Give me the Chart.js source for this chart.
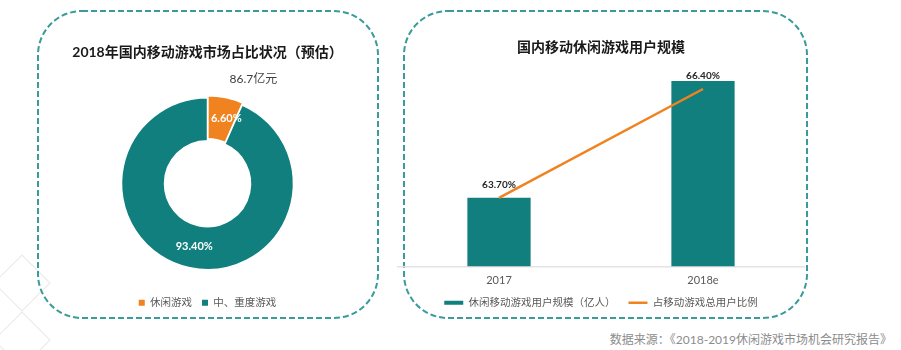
<!DOCTYPE html>
<html>
<head>
<meta charset="utf-8">
<script src="https://cdn.jsdelivr.net/npm/chart.js@4"></script>
<style>
  body { margin: 0; width: 901px; height: 350px; background: #fff; position: relative; overflow: hidden;
         font-family: Lato, 'Noto Sans CJK SC', sans-serif; }
  #deco { position: absolute; left: 0; top: 0; }
  #shareBox { position: absolute; left: 39px; top: 12px; width: 337px; height: 306px; }
  #userBox { position: absolute; left: 397px; top: 12px; width: 408px; height: 306px; }
  #source { position: absolute; right: 9px; top: 330px; font-size: 12px; color: #8c8c8c; white-space: nowrap; }
</style>
</head>
<body>
<svg id="deco" width="901" height="350">
  <path d="M-6 283 L22 255 L50 283 L22 311 Z M-6 340 L22 312 L50 340 L22 368 Z" fill="none" stroke="#ebebeb" stroke-width="1.2"/>
  <rect x="38" y="11" width="340" height="307" rx="44" fill="none" stroke="#3a9b9b" stroke-width="2" stroke-dasharray="6 3"/>
  <rect x="404" y="11" width="403" height="307" rx="44" fill="none" stroke="#3a9b9b" stroke-width="2" stroke-dasharray="6 3"/>
</svg>
<div id="shareBox"><canvas id="shareChart" width="337" height="306"></canvas></div>
<div id="userBox"><canvas id="userChart" width="408" height="306"></canvas></div>
<div id="source">数据来源：《2018-2019休闲游戏市场机会研究报告》</div>

<script>
// datos del grafico de la izquierda
const shareLabels = ['休闲游戏', '中、重度游戏'];
const shareValues = [6.6, 93.4];
const shareNotes = ['86.7亿元', ''];

// datos del grafico de la derecha
const years = ['2017', '2018e'];
const userValues = [3.72, 4.01];
const ratioValues = [63.7, 66.4];

const TEAL = '#107f7e';
const ORANGE = '#f0821f';
const FONT = "Lato, 'Noto Sans CJK SC', sans-serif";

Chart.defaults.font.family = FONT;
Chart.defaults.animation = false;

document.addEventListener("DOMContentLoaded", function () {
    // etiquetas dentro del anillo
    const shareLabelPlugin = {
        id: 'shareLabels',
        afterDatasetsDraw(chart) {
            const ctx = chart.ctx;
            const meta = chart.getDatasetMeta(0);
            ctx.save();
            ctx.textAlign = 'center';
            ctx.textBaseline = 'middle';
            meta.data.forEach((arc, i) => {
                const p = arc.tooltipPosition();
                const dx = i === 0 ? 5 : 0; // la etiqueta pequeña va un poco a la derecha
                ctx.fillStyle = '#fff';
                ctx.font = 'bold 11px ' + FONT;
                ctx.fillText(shareValues[i].toFixed(2) + '%', p.x + dx, p.y);
                if (shareNotes[i]) {
                    const r = arc.outerRadius + 28;
                    ctx.fillStyle = '#404040';
                    ctx.font = '12px ' + FONT;
                    ctx.fillText(shareNotes[i], arc.x + Math.cos(arc.endAngle) * r, arc.y + Math.sin(arc.endAngle) * r);
                }
            });
            ctx.restore();
        }
    };

    new Chart(document.getElementById('shareChart'), {
        type: 'doughnut',
        data: {
            labels: shareLabels,
            datasets: [{
                data: shareValues,
                backgroundColor: [ORANGE, TEAL],
                borderColor: '#fff',
                borderWidth: 1.5,
                offset: [5, 0]
            }]
        },
        options: {
            responsive: false,
            radius: 86,
            cutout: '50%',
            layout: { padding: { bottom: 0 } },
            plugins: {
                title: {
                    display: true,
                    text: '2018年国内移动游戏市场占比状况（预估）',
                    color: '#1a1a1a',
                    font: { size: 14, weight: 'bold' },
                    padding: { top: 32, bottom: 19 }
                },
                legend: {
                    position: 'bottom',
                    labels: {
                        color: '#595959',
                        font: { size: 10.5 },
                        usePointStyle: true,
                        boxHeight: 6,
                        pointStyleWidth: 6,
                        padding: 10,
                        generateLabels: chart => Chart.overrides.doughnut.plugins.legend.labels.generateLabels(chart)
                            .map(l => ({ ...l, lineWidth: 0, pointStyle: 'rect' }))
                    }
                },
                tooltip: { enabled: false }
            }
        },
        plugins: [shareLabelPlugin]
    });

    // etiquetas de barras y linea
    const userLabelPlugin = {
        id: 'userLabels',
        afterDatasetsDraw(chart) {
            const ctx = chart.ctx;
            ctx.save();
            ctx.textAlign = 'center';
            ctx.textBaseline = 'middle';
            chart.getDatasetMeta(0).data.forEach((bar, i) => {
                ctx.fillStyle = '#fff';
                ctx.font = 'bold 14px ' + FONT;
                ctx.fillText(userValues[i].toFixed(2), bar.x, bar.base - 13);
            });
            chart.getDatasetMeta(1).data.forEach((pt, i) => {
                ctx.fillStyle = '#262626';
                ctx.font = 'bold 10px ' + FONT;
                ctx.fillText(ratioValues[i].toFixed(2) + '%', pt.x, pt.y - 13);
            });
            ctx.restore();
        }
    };

    new Chart(document.getElementById('userChart'), {
        type: 'bar',
        data: {
            labels: years,
            datasets: [{
                label: '休闲移动游戏用户规模（亿人）',
                data: userValues,
                backgroundColor: TEAL,
                barPercentage: 0.31,
                categoryPercentage: 1,
                pointStyle: 'rect',
                yAxisID: 'y',
                order: 1
            }, {
                type: 'line',
                label: '占移动游戏总用户比例',
                data: ratioValues,
                borderColor: ORANGE,
                backgroundColor: ORANGE,
                borderWidth: 2.5,
                pointRadius: 0,
                pointStyle: 'line',
                yAxisID: 'y1',
                order: 0
            }]
        },
        options: {
            responsive: false,
            layout: { padding: { bottom: 0 } },
            scales: {
                x: {
                    grid: { display: false, drawTicks: false },
                    border: { color: '#e3e3e3', width: 1.5 },
                    ticks: { color: '#595959', font: { size: 11 }, padding: 8 },
                    afterFit: scale => { scale.height -= 11; }
                },
                y: { display: false, min: 3.55, max: 4.05 },
                y1: { display: false, min: 62, max: 67 }
            },
            plugins: {
                title: {
                    display: true,
                    text: '国内移动休闲游戏用户规模',
                    color: '#1a1a1a',
                    font: { size: 14, weight: 'bold' },
                    padding: { top: 27, bottom: 9 }
                },
                legend: {
                    position: 'bottom',
                    labels: {
                        color: '#595959',
                        font: { size: 10.5 },
                        usePointStyle: true,
                        boxHeight: 4,
                        pointStyleWidth: 19,
                        padding: 13,
                        sort: (a, b) => a.datasetIndex - b.datasetIndex
                    }
                },
                tooltip: { enabled: false }
            }
        },
        plugins: [userLabelPlugin]
    });
});
</script>
</body>
</html>
